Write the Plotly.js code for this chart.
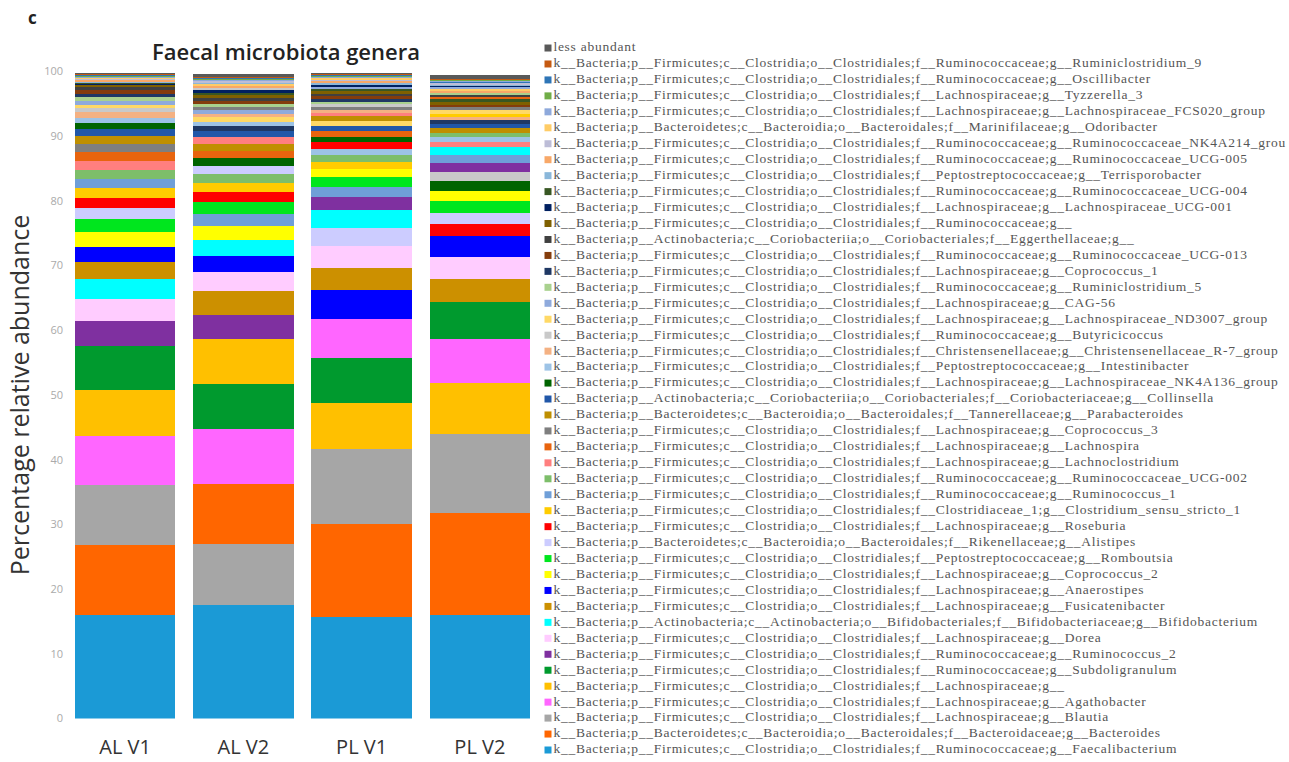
<!DOCTYPE html>
<html>
<head>
<meta charset="utf-8">
<script src="https://cdn.plot.ly/plotly-3.0.1.min.js"></script>
<style>
html,body{margin:0;padding:0;background:#ffffff;}
#chart{width:1289px;height:762px;}
#chart .textpoint text{letter-spacing:0.75px;}
</style>
</head>
<body>
<div id="chart"></div>
<script>
// ---------- data ----------
const samples = ['AL V1', 'AL V2', 'PL V1', 'PL V2'];

const FC = 'k__Bacteria;p__Firmicutes;c__Clostridia;o__Clostridiales;f__';
const BB = 'k__Bacteria;p__Bacteroidetes;c__Bacteroidia;o__Bacteroidales;f__';
const AC = 'k__Bacteria;p__Actinobacteria;c__Coriobacteriia;o__Coriobacteriales;f__';

// genera, from the bottom of each stack (most abundant) to "less abundant" (top)
const genera = [
  FC + 'Ruminococcaceae;g__Faecalibacterium',
  BB + 'Bacteroidaceae;g__Bacteroides',
  FC + 'Lachnospiraceae;g__Blautia',
  FC + 'Lachnospiraceae;g__Agathobacter',
  FC + 'Lachnospiraceae;g__',
  FC + 'Ruminococcaceae;g__Subdoligranulum',
  FC + 'Ruminococcaceae;g__Ruminococcus_2',
  FC + 'Lachnospiraceae;g__Dorea',
  'k__Bacteria;p__Actinobacteria;c__Actinobacteria;o__Bifidobacteriales;f__Bifidobacteriaceae;g__Bifidobacterium',
  FC + 'Lachnospiraceae;g__Fusicatenibacter',
  FC + 'Lachnospiraceae;g__Anaerostipes',
  FC + 'Lachnospiraceae;g__Coprococcus_2',
  FC + 'Peptostreptococcaceae;g__Romboutsia',
  BB + 'Rikenellaceae;g__Alistipes',
  FC + 'Lachnospiraceae;g__Roseburia',
  FC + 'Clostridiaceae_1;g__Clostridium_sensu_stricto_1',
  FC + 'Ruminococcaceae;g__Ruminococcus_1',
  FC + 'Ruminococcaceae;g__Ruminococcaceae_UCG-002',
  FC + 'Lachnospiraceae;g__Lachnoclostridium',
  FC + 'Lachnospiraceae;g__Lachnospira',
  FC + 'Lachnospiraceae;g__Coprococcus_3',
  BB + 'Tannerellaceae;g__Parabacteroides',
  AC + 'Coriobacteriaceae;g__Collinsella',
  FC + 'Lachnospiraceae;g__Lachnospiraceae_NK4A136_group',
  FC + 'Peptostreptococcaceae;g__Intestinibacter',
  FC + 'Christensenellaceae;g__Christensenellaceae_R-7_group',
  FC + 'Ruminococcaceae;g__Butyricicoccus',
  FC + 'Lachnospiraceae;g__Lachnospiraceae_ND3007_group',
  FC + 'Lachnospiraceae;g__CAG-56',
  FC + 'Ruminococcaceae;g__Ruminiclostridium_5',
  FC + 'Lachnospiraceae;g__Coprococcus_1',
  FC + 'Ruminococcaceae;g__Ruminococcaceae_UCG-013',
  AC + 'Eggerthellaceae;g__',
  FC + 'Ruminococcaceae;g__',
  FC + 'Lachnospiraceae;g__Lachnospiraceae_UCG-001',
  FC + 'Ruminococcaceae;g__Ruminococcaceae_UCG-004',
  FC + 'Peptostreptococcaceae;g__Terrisporobacter',
  FC + 'Ruminococcaceae;g__Ruminococcaceae_UCG-005',
  FC + 'Ruminococcaceae;g__Ruminococcaceae_NK4A214_grou',
  BB + 'Marinifilaceae;g__Odoribacter',
  FC + 'Lachnospiraceae;g__Lachnospiraceae_FCS020_group',
  FC + 'Lachnospiraceae;g__Tyzzerella_3',
  FC + 'Ruminococcaceae;g__Oscillibacter',
  FC + 'Ruminococcaceae;g__Ruminiclostridium_9',
  'less abundant'
];

const colors = [
  '#1B9AD6', '#FF6600', '#A6A6A6', '#FF66FF', '#FFC000', '#009A2E', '#7F30A0', '#FFCCFF',
  '#00FFFF', '#CC9000', '#0000FF', '#FFFF00', '#00E61E', '#CCCCFF', '#FF0000', '#FFCC00',
  '#6F9FD8', '#7DBE6A', '#FF7F7F', '#E8640E', '#7F7F7F', '#BF8F00', '#2157A8', '#006400',
  '#9DC3E6', '#F4B183', '#C9C9C9', '#FFD966', '#8FAADC', '#A9D18E', '#1F3864', '#843C0C',
  '#404040', '#7F6000', '#002060', '#385723', '#8AB7DA', '#F8A868', '#BDBDD7', '#FFCC66',
  '#8EA9DB', '#70AD47', '#2E75B6', '#C55A11', '#595959'
];

// percentage relative abundance, same order as genera
const AL_V1 = [16.0, 10.8, 9.3, 7.6, 7.1, 6.8, 3.9, 3.3, 3.1, 2.6, 2.4, 2.3, 2.0, 1.7, 1.55,
  1.5, 1.5, 1.4, 1.35, 1.3, 1.3, 1.3, 0.95, 0.95, 0.85, 0.85, 0.6, 0.6, 0.55, 0.55,
  0.55, 0.55, 0.5, 0.25, 0.2, 0.2, 0.2, 0.2, 0.2, 0.2, 0.15, 0.15, 0.15, 0.1, 0.2];
const AL_V2 = [17.6, 9.2, 9.4, 8.6, 6.9, 6.95, 3.7, 3.05, 2.45, 3.65, 2.5, 2.1, 1.85, 1.3, 1.45,
  1.4, 1.95, 1.35, 1.0, 1.15, 0.5, 1.1, 0.95, 1.2, 0.7, 0.6, 0.3, 0.65, 0.55, 0.5,
  0.75, 0.45, 0.45, 0.4, 0.35, 0.4, 0.25, 0.3, 0.25, 0.3, 0.2, 0.2, 0.15, 0.15, 0.4];
const PL_V1 = [15.7, 14.3, 11.6, 6.0, 7.1, 7.0, 1.95, 3.3, 2.8, 3.5, 4.5, 1.3, 1.5, 2.85, 1.0,
  1.05, 1.55, 1.02, 0.5, 0.86, 0.45, 0.7, 0.85, 0.87, 1.01, 0.5, 0.45, 0.75, 0.3, 0.4,
  0.4, 0.4, 0.4, 0.35, 0.3, 0.35, 0.3, 0.3, 0.25, 0.25, 0.2, 0.2, 0.15, 0.1, 0.1];
const PL_V2 = [16.0, 15.8, 12.1, 6.8, 7.9, 5.7, 1.33, 3.3, 1.2, 3.7, 3.25, 1.6, 1.75, 1.8, 1.85,
  0.5, 1.25, 0.72, 0.8, 0.35, 0.45, 0.7, 0.68, 1.58, 0.75, 0.53, 1.35, 0.5, 0.25, 0.3,
  0.55, 0.45, 0.35, 0.4, 0.25, 0.4, 0.2, 0.3, 0.2, 0.3, 0.15, 0.15, 0.2, 0.1, 0.6];

const yTicks = [0, 10, 20, 30, 40, 50, 60, 70, 80, 90, 100];

// ---------- traces ----------
const sampleValues = [AL_V1, AL_V2, PL_V1, PL_V2];
const LESS = genera.length - 1;
const traces = [];
samples.forEach(function (s, si) {
  const vals = sampleValues[si];
  // each sample is stacked from its most to its least abundant genus, "less abundant" on top
  const order = genera.map(function (g, i) { return i; })
    .filter(function (i) { return i !== LESS; })
    .sort(function (a, b) { return (vals[b] - vals[a]) || (a - b); });
  order.push(LESS);
  order.forEach(function (i) {
    traces.push({
      type: 'bar', x: [s], y: [vals[i]], name: genera[i],
      marker: { color: colors[i], line: { width: 0 } },
      showlegend: false, xaxis: 'x', yaxis: 'y',
      hovertemplate: '%{x}: %{y}%<extra>' + genera[i] + '</extra>'
    });
  });
});

// legend drawn as a scatter on its own axes (one row per genus)
traces.push({
  type: 'scatter', mode: 'markers+text',
  x: genera.map(function () { return 0; }),
  y: genera.map(function (g, i) { return i; }),
  text: genera, textposition: 'middle right',
  marker: { symbol: 'square', size: 7, color: colors },
  textfont: { family: 'Liberation Serif', size: 13.5, color: '#555555' },
  xaxis: 'x2', yaxis: 'y2', cliponaxis: false, showlegend: false, hoverinfo: 'skip'
});

const W = 1289, H = 762;
const layout = {
  width: W, height: H,
  margin: { l: 0, r: 0, t: 0, b: 0 },
  paper_bgcolor: '#ffffff', plot_bgcolor: '#ffffff',
  barmode: 'stack', bargap: 0.15, showlegend: false,
  font: { family: 'Open Sans', color: '#333333' },
  title: {
    text: 'Faecal microbiota genera',
    x: 286 / W, xanchor: 'center', y: (H - 52) / H, yanchor: 'middle',
    font: { family: 'Open Sans', size: 22, weight: 600, color: '#222222' }
  },
  xaxis: {
    domain: [66 / W, 539 / W], type: 'category', categoryorder: 'array', categoryarray: samples,
    showgrid: false, zeroline: false, showline: false, ticks: '',
    tickfont: { family: 'Open Sans', size: 20, color: '#333333' },
    ticklabelstandoff: 14, automargin: false, fixedrange: true
  },
  yaxis: {
    domain: [(H - 718.5) / H, (H - 71.5) / H], range: [0, 100],
    tickmode: 'array', tickvals: yTicks, ticktext: yTicks.map(String),
    showgrid: false, zeroline: false, showline: false, ticks: '',
    tickfont: { family: 'Open Sans', size: 11, color: '#aaaaaa' },
    ticklabelstandoff: 2, automargin: false, fixedrange: true,
    title: { text: 'Percentage relative abundance', standoff: 7,
      font: { family: 'Open Sans', size: 25, color: '#333333' } }
  },
  xaxis2: { domain: [548 / W, 1], range: [0, 1], visible: false, anchor: 'y2', fixedrange: true },
  yaxis2: { domain: [0, 1], range: [-0.752, 47.01], visible: false, anchor: 'x2', fixedrange: true },
  annotations: [{
    text: '<b>c</b>', xref: 'paper', yref: 'paper', x: 32 / W, y: (H - 18) / H,
    xanchor: 'center', yanchor: 'middle', showarrow: false,
    font: { family: 'Open Sans', size: 17, color: '#222222' }
  }]
};

Plotly.newPlot('chart', traces, layout, { displayModeBar: false, staticPlot: true });
</script>
</body>
</html>
